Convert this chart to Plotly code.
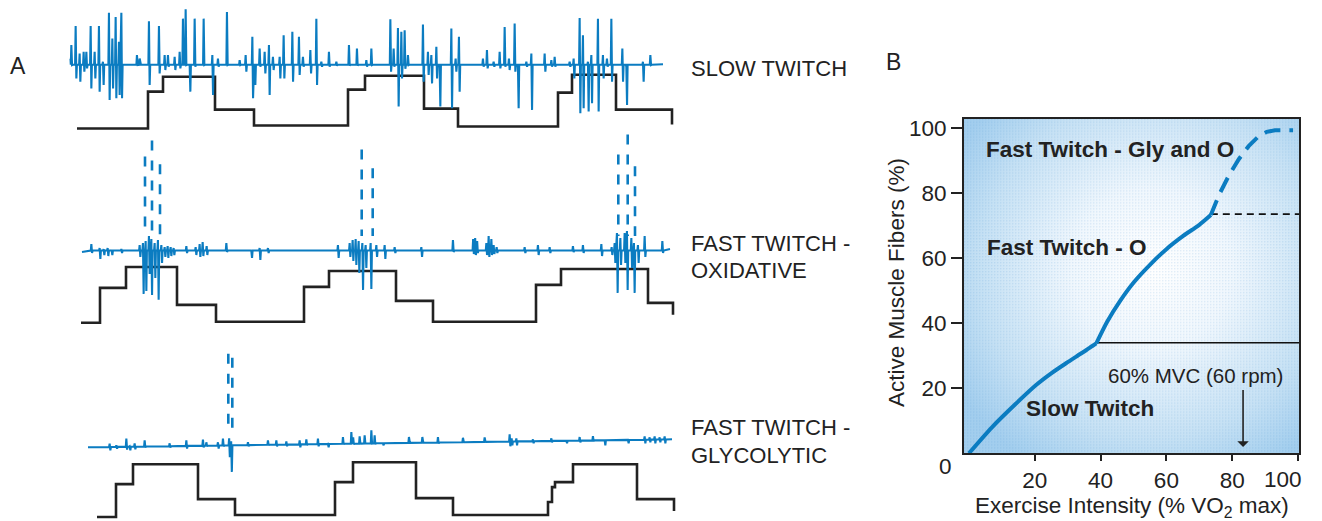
import base64
import plotly.graph_objects as go

W, H = 1305, 521   # drawing width actually available beside the browser scrollbar
BLUE = "#0b7cc1"
INK = "#222222"
FONT = "Liberation Sans, Arial, Helvetica, sans-serif"

# ---------------- Panel A data (time in arbitrary units, signal units per row) ----------------
# Force (black staircase): breakpoints and levels
SLOW_FORCE_T = [77, 148, 163, 215, 254, 348, 365, 424, 458, 558, 572, 616, 672]
SLOW_FORCE_Y = [0, 37, 52, 19, 3, 39, 53, 20, 2, 36, 54, 19, 4]
FOX_FORCE_T = [81, 100, 126, 177, 216, 304, 329, 396, 433, 536, 561, 648, 673]
FOX_FORCE_Y = [0, 35, 56, 18, 1, 36, 52, 22, 1, 38, 54, 20, 8]
FGLY_FORCE_T = [97, 116, 133, 198, 235, 335, 353, 416, 453, 548, 552, 555, 573, 637, 674]
FGLY_FORCE_Y = [0, 33, 53, 18, 2, 35, 55, 19, 2, 15, 30, 35, 53, 18, 6]

# EMG spikes: time, peak, trough
SLOW_BASE = 64
SLOW_T = [71.7, 76, 80, 84, 86.7, 91, 95, 99.3, 103.3, 109.3, 112.7, 116, 119.3, 121.7, 137.3, 140,
          149.3, 159.3, 165, 168.3, 175, 180, 183.3, 186, 190, 195, 204, 212.7, 218.3, 227.3, 240,
          246, 252.7, 255, 260, 265, 269.3, 273.3, 280, 284, 292.7, 299.3, 303.3, 310.7, 316.7,
          321.7, 329.3, 336.7, 349.3, 357.3, 366.7, 371.7, 390.7, 394, 398.3, 401.7, 405, 408.3,
          423.3, 428.3, 431.7, 436.7, 440, 451.7, 456, 459.3, 483.3, 487.3, 494, 500, 505, 509.3,
          515, 518.3, 526.7, 531.7, 545, 551.7, 555, 570, 574, 580, 583.3, 588.3, 591.7, 598.3,
          603.3, 607.3, 611.7, 622.7, 626.7, 643.3, 650.7]
SLOW_HI = [83.7, 103, 75.3, 77, 77, 103, 77, 103, 67, 116.3, 90.3, 112, 87, 116.3, 73.7, 70.3,
           107.7, 103, 73.7, 73.7, 72, 77, 110.3, 119.7, 64, 110.3, 110.3, 73.7, 70.3, 117, 68.7,
           73.7, 92, 64, 80.3, 77, 83.7, 72, 72, 93.7, 97, 92, 72, 78.7, 110.3,
           67, 77, 67, 83.7, 80.3, 68.7, 80.3, 109.7, 80.3, 101, 97, 98.7, 73.7,
           104.3, 77, 73.7, 82, 62, 100.3, 70.3, 92, 70.3, 78.7, 67, 77, 102, 70.3,
           105.3, 62, 67, 75.3, 75.3, 68.7, 72, 67, 70.3, 111, 93.7, 67, 73.7, 110.3,
           73.7, 70.3, 110.3, 80.3, 62, 67, 73.7]
SLOW_LO = [63.7, 50.3, 47, 57, 60.3, 40.3, 50.3, 37, 43.7, 28.7, 40.3, 30.3, 33.7, 30.3, 63.7, 64,
           43.7, 55.3, 58.7, 62, 58.7, 60.3, 64, 63.7, 37, 62, 63.7, 33.7, 62, 63.7, 63.7,
           57, 30.3, 43.7, 62, 55.3, 33.7, 58.7, 50.3, 50.3, 47, 53.7, 62, 55.3, 43.7,
           62, 62, 63, 63, 63, 62, 63.7, 57, 62, 22, 50.3, 60, 63.7,
           47, 53.7, 45.3, 50.3, 22, 20.3, 57, 37, 62, 60.3, 62, 60.3, 62, 58.7,
           57, 20.3, 62, 18.7, 57, 62, 62, 62, 50.3, 15.3, 20.3, 17, 25.3, 17,
           50.3, 62, 47, 47, 23.7, 47, 63.7]

FOX_BASE = 72.5
FOX_T = [91.7, 100, 104, 108, 112, 121.7, 140, 143.3, 146, 149.3, 151.7, 155, 158.3, 161.7, 165, 168,
         171, 174, 186.7, 196, 200, 203, 207, 226.7, 251.7, 260, 268.3, 338.3, 350, 353, 356, 359,
         362.7, 366, 371, 376.7, 385, 395, 421.7, 453.3, 473.5, 475.5, 477.5, 486.7, 489, 491.7,
         494, 497, 525, 538.3, 550, 573.3, 583.3, 601.7, 612, 615, 617.3, 620.7, 625, 627.3,
         631.7, 634.3, 638.3, 645, 662.7]
FOX_HI = [79, 75, 74, 75, 73, 74, 78, 80, 82, 87, 84, 80, 83, 78, 76, 77,
          76, 75, 77, 76, 79, 81, 77, 80, 72, 75, 75, 78, 80, 83, 84, 82,
          80, 78, 80, 78, 78, 76, 76, 83, 84, 85, 82, 80, 87, 84,
          78, 76, 76, 78, 76, 77, 78, 79, 76, 80, 90, 85, 90, 92,
          85, 80, 78, 87, 82]
FOX_LO = [70, 64, 68, 67, 68, 70, 66, 29, 32, 49, 28, 45, 23, 60, 66, 65,
          67, 68, 70, 68, 66, 67, 68, 71, 65, 63, 70, 65, 66, 62, 58, 50,
          33, 55, 34, 66, 64, 70, 66, 71, 69, 68, 70, 68, 66, 68,
          69, 70, 70, 68, 70, 71, 70, 67, 68, 60, 30, 58, 60, 33,
          55, 30, 60, 66, 70]
FOX_DASH_T = [145, 152, 160, 361.7, 372.7, 618.3, 627.7, 635]
FOX_DASH_TOP = [167, 183, 159, 174, 155, 169, 189, 157]
FOX_DASH_BOTTOM = 87

FGLY_T = [110, 116.7, 126.7, 130, 135, 145, 170, 186.7, 203.3, 206.7, 218.3, 223.3, 229.5, 231.5,
          248.3, 268.3, 276.7, 286.7, 300, 306.7, 318.3, 328.3, 343.3, 351.7, 353.5, 360, 365,
          371.7, 375, 383.3, 409.3, 422.7, 438.3, 463.3, 485, 510, 512, 516.7, 533.3, 551.7,
          566.7, 580, 593.3, 605, 628.3, 645, 650, 655, 660, 665]
FGLY_HI = [73.7, 72, 78.7, 71, 74, 77, 74, 77, 77.7, 75, 75, 78.7, 79, 76,
           75, 77, 77, 76, 77, 78, 78.7, 73.5, 80.3, 85.3, 80, 81, 82,
           87, 82, 74, 80.3, 80.3, 80.3, 79.5, 80, 83, 79, 79, 78, 79,
           76.6, 80.3, 81.3, 77.1, 77.4, 81, 80, 81, 80, 81]
FGLY_LO = [67, 68.5, 67.7, 67, 68, 69.7, 69.7, 68.7, 70, 71, 68.7, 71, 60, 45.3,
           71, 72, 71, 71, 70, 72, 71, 70, 73, 74, 73, 74, 74,
           73.7, 73, 72, 76, 76, 73.7, 76, 76, 71, 72, 72, 74, 75,
           74, 75, 76, 72, 74, 74, 75, 74, 75, 74]
FGLY_BASE = [70.3, 70.4, 70.5, 70.6, 70.6, 70.8, 71.1, 71.4, 71.6, 71.6, 71.8, 71.8, 72, 72,
             72.2, 72.5, 72.6, 72.7, 72.9, 73, 73.2, 73.3, 73.5, 73.6, 73.6, 73.7, 73.8,
             73.9, 74, 74, 74.4, 74.6, 74.8, 75.1, 75.4, 75.8, 75.8, 75.9, 76.1, 76.4,
             76.6, 76.7, 76.9, 77.1, 77.4, 77.6, 77.7, 77.8, 77.8, 77.9]
FGLY_DASH_T = [228.3, 232.3]
FGLY_DASH_TOP = [164, 160]
FGLY_DASH_BOTTOM = 87

# EMG start/end (time, level)
SLOW_SPAN = [(70.5, 70), (663, 64.5)]
FOX_SPAN = [(82, 71), (670, 74)]
FGLY_SPAN = [(88, 70), (672, 78)]

# ---------------- Panel B data ----------------
LOWER_X = [0, 7, 14, 20.4, 25, 29.5, 33, 35.6, 37.5, 38.7]
LOWER_Y = [0, 8, 15, 21, 24.6, 27.7, 30, 31.7, 33, 33.8]
UPPER_X = [38.7, 42, 46, 50, 55, 60, 65, 70, 73.5]
UPPER_Y = [33.8, 40.5, 47, 52.5, 58, 62.8, 66.8, 70.3, 73.3]
DASH_X = [73.5, 76, 79, 82, 85, 88, 90.5, 93, 98.5]
DASH_Y = [73.3, 79.5, 85.5, 90.5, 94.5, 97.5, 98.9, 99.4, 99.4]
SLOW_LIMIT = 34
FTO_LIMIT = 73.6
TICKS = [20, 40, 60, 80, 100]
TICK_TEXT = ["20", "40", "60", "80", "100"]
MVC_X = 83.3


def emg_path(span, ts, his, los, base):
    xs, ys = [span[0][0]], [span[0][1]]
    for i, t in enumerate(ts):
        b = base[i] if isinstance(base, list) else base
        xs += [t - 0.9, t - 0.35, t + 0.35, t + 0.9]
        ys += [b, his[i], los[i], b]
    xs.append(span[1][0])
    ys.append(span[1][1])
    return xs, ys


def dash_path(ts, tops, bottom):
    xs, ys = [], []
    for t, top in zip(ts, tops):
        xs += [t, t, None]
        ys += [top, bottom, None]
    return xs, ys


fig = go.Figure()

rows = [
    ("y", SLOW_SPAN, SLOW_T, SLOW_HI, SLOW_LO, SLOW_BASE, SLOW_FORCE_T, SLOW_FORCE_Y, None),
    ("y2", FOX_SPAN, FOX_T, FOX_HI, FOX_LO, FOX_BASE, FOX_FORCE_T, FOX_FORCE_Y,
     (FOX_DASH_T, FOX_DASH_TOP, FOX_DASH_BOTTOM)),
    ("y3", FGLY_SPAN, FGLY_T, FGLY_HI, FGLY_LO, FGLY_BASE, FGLY_FORCE_T, FGLY_FORCE_Y,
     (FGLY_DASH_T, FGLY_DASH_TOP, FGLY_DASH_BOTTOM)),
]
for yax, span, ts, his, los, base, ft, fy, dash in rows:
    fig.add_trace(go.Scatter(x=ft, y=fy, xaxis="x", yaxis=yax, mode="lines",
                             line=dict(color=INK, width=2.6, shape="hv"), hoverinfo="skip"))
    ex, ey = emg_path(span, ts, his, los, base)
    fig.add_trace(go.Scatter(x=ex, y=ey, xaxis="x", yaxis=yax, mode="lines",
                             line=dict(color=BLUE, width=2.1), hoverinfo="skip"))
    if dash:
        dx, dy = dash_path(*dash)
        fig.add_trace(go.Scatter(x=dx, y=dy, xaxis="x", yaxis=yax, mode="lines",
                                 line=dict(color=BLUE, width=2.6, dash="10px,10px"),
                                 hoverinfo="skip"))

# Panel B
fig.add_trace(go.Scatter(x=[LOWER_X[-1], 100.3], y=[SLOW_LIMIT, SLOW_LIMIT], xaxis="x2",
                         yaxis="y4", mode="lines", line=dict(color="#111", width=1.6),
                         hoverinfo="skip"))
fig.add_trace(go.Scatter(x=[DASH_X[0], 100.3], y=[FTO_LIMIT, FTO_LIMIT], xaxis="x2", yaxis="y4",
                         mode="lines", line=dict(color="#111", width=1.6, dash="7px,5px"),
                         hoverinfo="skip"))
for cx, cy in [(LOWER_X, LOWER_Y), (UPPER_X, UPPER_Y)]:
    fig.add_trace(go.Scatter(x=cx, y=cy, xaxis="x2", yaxis="y4", mode="lines",
                             line=dict(color=BLUE, width=4, shape="spline", smoothing=0.8),
                             hoverinfo="skip"))
fig.add_trace(go.Scatter(x=DASH_X, y=DASH_Y, xaxis="x2", yaxis="y4", mode="lines",
                         line=dict(color=BLUE, width=4, dash="16px,9px"), hoverinfo="skip"))

# background gradient (halftone-like blue shading)
svg = (
    "<svg xmlns='http://www.w3.org/2000/svg' width='335' height='336' viewBox='0 0 335 336' "
    "preserveAspectRatio='none'><defs>"
    "<radialGradient id='g' cx='0.56' cy='0.45' r='0.68'>"
    "<stop offset='0' stop-color='#ffffff'/><stop offset='0.35' stop-color='#f0f7fd'/>"
    "<stop offset='0.75' stop-color='#c6e1f4'/><stop offset='1' stop-color='#a3ceee'/>"
    "</radialGradient>"
    "<pattern id='p' width='3' height='3' patternUnits='userSpaceOnUse'>"
    "<rect width='1.4' height='1.4' fill='#1f7fc6' opacity='0.12'/></pattern>"
    "</defs><rect width='335' height='336' fill='url(#g)'/>"
    "<rect width='335' height='336' fill='url(#p)'/></svg>"
)
src = "data:image/svg+xml;base64," + base64.b64encode(svg.encode()).decode()
fig.add_layout_image(dict(source=src, xref="x2", yref="y4", x=-1.5, y=103, sizex=101.8,
                          sizey=103, xanchor="left", yanchor="top", sizing="stretch",
                          layer="below"))


def px(xp):
    return xp / W


def py(yp):
    return 1 - yp / H


def label(text, xp, yp, size, xanchor="center", **kw):
    return dict(text=text, x=px(xp), y=py(yp), xref="paper", yref="paper", showarrow=False,
                xanchor=xanchor, yanchor="middle", font=dict(size=size, color=INK), **kw)


ann = []
ann.append(label("A", 18, 64, 23))
ann.append(label("B", 893, 60, 23))
for txt, yp in [("SLOW TWITCH", 67), ("FAST TWITCH -", 242), ("OXIDATIVE", 270),
                ("FAST TWITCH -", 427), ("GLYCOLYTIC", 455)]:
    ann.append(label(txt, 689, yp, 22, xanchor="left"))
for txt, x, y in [("Fast Twitch - Gly and O", 42.9, 93.6), ("Fast Twitch - O", 29.8, 63.2),
                  ("Slow Twitch", 36.8, 13.8)]:
    ann.append(dict(text="<b>" + txt + "</b>", x=x, y=y, xref="x2", yref="y4", showarrow=False,
                    xanchor="center", yanchor="middle", font=dict(size=22.5, color=INK)))
ann.append(dict(text="60% MVC (60 rpm)", x=68.7, y=23.9, xref="x2", yref="y4", showarrow=False,
                xanchor="center", yanchor="middle", font=dict(size=20.5, color=INK)))
ann.append(dict(text="", x=MVC_X, y=1.9, ax=MVC_X, ay=19.9, xref="x2", yref="y4", axref="x2",
                ayref="y4", showarrow=True, arrowhead=1, arrowsize=1.2, arrowwidth=1.6,
                arrowcolor=INK))
ann.append(label("0", 945, 466, 22.5))
# last x tick label kept inside the drawable width
ann.append(label(TICK_TEXT[-1], 1304, 479, 22.5, xanchor="right"))
ann.append(label("Active Muscle Fibers (%)", 897, 282, 22.5, textangle=-90))
ann.append(label("Exercise Intensity (% VO<sub>2</sub> max)", 1132, 507, 22.5))

hidden = dict(visible=False, fixedrange=True)
fig.update_layout(
    width=W, height=H, margin=dict(l=0, r=0, t=0, b=0), autosize=False,
    paper_bgcolor="white", plot_bgcolor="rgba(0,0,0,0)", showlegend=False,
    font=dict(family=FONT, color=INK),
    xaxis=dict(domain=[0, 680 / W], range=[0, 680], **hidden),
    yaxis=dict(domain=[py(140), 1], range=[-13, 127], anchor="x", **hidden),
    yaxis2=dict(domain=[py(330), py(125)], range=[-8, 197], anchor="x", **hidden),
    yaxis3=dict(domain=[0, py(330)], range=[-4, 187], anchor="x", **hidden),
    xaxis2=dict(domain=[964 / W, 1299 / W], range=[-1.5, 100.3], anchor="y4",
                tickvals=TICKS, ticktext=TICK_TEXT[:-1] + [""], ticks="outside", ticklen=6,
                tickwidth=2, tickcolor=INK, showline=True, linewidth=2, linecolor=INK,
                mirror=True, showgrid=False, zeroline=False,
                tickfont=dict(size=22.5, color=INK), fixedrange=True),
    yaxis4=dict(domain=[py(453), py(117)], range=[0, 103], anchor="x2",
                tickvals=TICKS, ticktext=TICK_TEXT, ticks="outside", ticklen=11, tickwidth=2,
                tickcolor=INK, showline=True, linewidth=2, linecolor=INK, mirror=True,
                showgrid=False, zeroline=False, tickfont=dict(size=22.5, color=INK),
                fixedrange=True),
    annotations=ann,
)

fig.write_html("out.html", config={"responsive": False, "displayModeBar": False},
               post_script="document.body.style.margin='0';document.body.style.overflow='hidden';")
